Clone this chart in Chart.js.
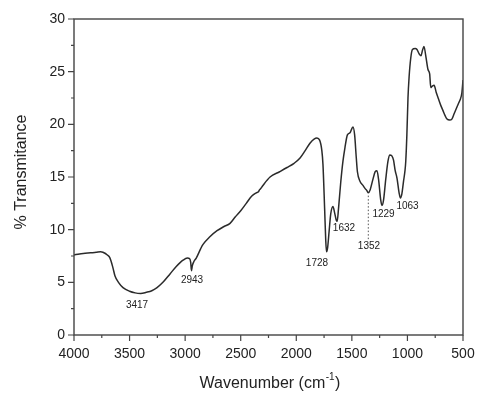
<!DOCTYPE html>
<html>
<head>
<meta charset="utf-8">
<script src="https://cdn.jsdelivr.net/npm/chart.js@4/dist/chart.umd.min.js"></script>
<style>
  html, body { margin: 0; padding: 0; background: #fff; }
  #wrap { width: 477px; height: 394px; }
</style>
</head>
<body>
<div id="wrap"><canvas id="ir" width="477" height="394"></canvas></div>
<script>
/**************************
* Data
**************************/

// wavenumber, cm-1
var wavenumber = [4000, 3950, 3900, 3850, 3800, 3760, 3740, 3700, 3676, 3650, 3631, 3600, 3559, 3500, 3450,
	3400, 3350, 3300, 3253, 3200, 3136, 3080, 3019, 2980, 2960, 2950, 2943, 2935, 2920, 2900, 2860, 2839,
	2780, 2713, 2650, 2596, 2550, 2500, 2450, 2400, 2360, 2340, 2330, 2320, 2300, 2236, 2150, 2083, 2020,
	1966, 1920, 1877, 1840, 1814, 1790, 1770, 1760, 1745, 1735, 1728, 1718, 1705, 1690, 1670, 1655, 1640,
	1632, 1620, 1600, 1580, 1562, 1540, 1517, 1500, 1490, 1475, 1460, 1450, 1427, 1400, 1380, 1364, 1352,
	1335, 1310, 1290, 1274, 1260, 1240, 1229, 1215, 1195, 1175, 1160, 1140, 1125, 1110, 1094, 1075, 1063,
	1050, 1035, 1022, 1015, 1005, 995, 985, 970, 955, 930, 914, 895, 878, 865, 851, 835, 815, 800, 790,
	779, 760, 740, 720, 700, 680, 660, 644, 620, 600, 580, 560, 540, 527, 510, 500]

// % transmittance
var transmittance = [7.6, 7.7, 7.75, 7.8, 7.85, 7.9, 7.85, 7.6, 7.3, 6.4, 5.6, 5.0, 4.5, 4.15, 4.0,
	3.95, 4.05, 4.2, 4.5, 5.0, 5.8, 6.5, 7.1, 7.3, 7.25, 6.9, 6.1, 6.6, 7.0, 7.3, 8.2, 8.6,
	9.3, 9.9, 10.3, 10.6, 11.2, 11.8, 12.5, 13.2, 13.5, 13.6, 13.8, 13.9, 14.2, 15.0, 15.5, 15.9, 16.3,
	16.8, 17.5, 18.2, 18.6, 18.7, 18.5, 17.5, 16.2, 12.0, 9.0, 7.9, 8.3, 9.8, 11.5, 12.2, 11.6, 10.9,
	10.8, 12.0, 14.5, 16.5, 17.8, 19.0, 19.2, 19.6, 19.75, 19.0, 16.8, 15.5, 14.6, 14.2, 13.9, 13.7, 13.5,
	13.8, 14.8, 15.5, 15.6, 14.8, 12.8, 12.3, 12.8, 14.8, 16.5, 17.1, 17.0, 16.6, 15.6, 14.9, 13.5, 13.0,
	13.4, 14.6, 15.6, 16.5, 19.0, 22.5, 24.5, 26.3, 27.1, 27.2, 27.1, 26.7, 26.5, 27.0, 27.4, 26.5, 25.2, 24.8, 23.5,
	23.6, 23.7, 23.0, 22.4, 21.8, 21.3, 20.8, 20.5, 20.4, 20.5, 21.0, 21.5, 22.0, 22.3, 23.0, 24.2]

// labelled bands
var peakNames = ['3417', '2943', '1728', '1632', '1352', '1229', '1063']

var xTicks = [4000, 3500, 3000, 2500, 2000, 1500, 1000, 500]
var yTicks = [0, 5, 10, 15, 20, 25, 30]

/*
* Label placement (data units) and drawing helpers
*/
var peakLabelAt = [[3433, 2.85], [2938, 5.2], [1814, 6.8], [1571, 10.1], [1346, 8.4], [1215, 11.5], [999, 12.25]]
var FONT = '"Liberation Sans", Arial, sans-serif'
var INK = '#2b2b2b'

var points = wavenumber.map(function (w, i) { return {x: w, y: transmittance[i]} })

var frame = {
	id: 'frame',
	afterDraw: function (chart) {
		var ctx = chart.ctx, a = chart.chartArea
		var xs = chart.scales.x, ys = chart.scales.y
		ctx.save()
		ctx.strokeStyle = '#444'
		ctx.lineWidth = 1.4
		ctx.strokeRect(a.left, a.top, a.right - a.left, a.bottom - a.top)

		// major / minor ticks, pointing out
		ctx.lineWidth = 1.2
		ctx.beginPath()
		for (var w = 500; w <= 4000; w += 250) {
			var px = xs.getPixelForValue(w)
			ctx.moveTo(px, a.bottom)
			ctx.lineTo(px, a.bottom + (w % 500 === 0 ? 6 : 3))
		}
		for (var v = 0; v <= 30; v += 2.5) {
			var py = ys.getPixelForValue(v)
			ctx.moveTo(a.left, py)
			ctx.lineTo(a.left - (v % 5 === 0 ? 6 : 3), py)
		}
		ctx.stroke()

		// band labels
		ctx.fillStyle = '#222'
		ctx.font = '10px ' + FONT
		ctx.textAlign = 'center'
		ctx.textBaseline = 'middle'
		peakNames.forEach(function (name, i) {
			ctx.fillText(name, xs.getPixelForValue(peakLabelAt[i][0]), ys.getPixelForValue(peakLabelAt[i][1]))
		})

		// dotted leader for 1352
		ctx.setLineDash([1.5, 2])
		ctx.lineWidth = 1
		ctx.strokeStyle = '#555'
		ctx.beginPath()
		ctx.moveTo(xs.getPixelForValue(1352), ys.getPixelForValue(9.1))
		ctx.lineTo(xs.getPixelForValue(1352), ys.getPixelForValue(13.3))
		ctx.stroke()
		ctx.setLineDash([])

		// axis titles
		ctx.fillStyle = '#222'
		ctx.font = '16px ' + FONT
		ctx.save()
		ctx.translate(22, (a.top + a.bottom) / 2 - 5)
		ctx.rotate(-Math.PI / 2)
		ctx.fillText('% Transmitance', 0, 0)
		ctx.restore()

		var main = 'Wavenumber (cm', sup = '-1', tail = ')'
		var wMain = ctx.measureText(main).width
		var wTail = ctx.measureText(tail).width
		ctx.font = '10px ' + FONT
		var wSup = ctx.measureText(sup).width
		var x0 = (a.left + a.right) / 2 - (wMain + wSup + wTail) / 2 + 1
		var yb = 384
		ctx.textAlign = 'left'
		ctx.font = '16px ' + FONT
		ctx.fillText(main, x0, yb)
		ctx.font = '10px ' + FONT
		ctx.fillText(sup, x0 + wMain + 0.5, yb - 7)
		ctx.font = '16px ' + FONT
		ctx.fillText(tail, x0 + wMain + wSup + 1, yb)
		ctx.restore()
	}
}

var chart = new Chart(document.getElementById('ir'), {
	type: 'line',
	data: {
		datasets: [{
			data: points,
			borderColor: INK,
			borderWidth: 1.5,
			pointRadius: 0,
			cubicInterpolationMode: 'monotone',
			fill: false
		}]
	},
	options: {
		responsive: false,
		animation: false,
		layout: {padding: {left: 0, top: 19, right: 14, bottom: 0}},
		plugins: {legend: {display: false}, tooltip: {enabled: false}},
		scales: {
			x: {
				type: 'linear',
				reverse: true,
				min: 500,
				max: 4000,
				afterBuildTicks: function (s) { s.ticks = xTicks.map(function (v) { return {value: v} }) },
				afterFit: function (s) { s.height = 59; s.paddingLeft = 0; s.paddingRight = 0 },
				grid: {display: false, drawTicks: false},
				border: {display: false},
				ticks: {color: '#222', font: {family: FONT, size: 14}, padding: 11, maxRotation: 0,
					callback: function (v) { return String(v) }}
			},
			y: {
				min: 0,
				max: 30,
				afterBuildTicks: function (s) { s.ticks = yTicks.map(function (v) { return {value: v} }) },
				afterFit: function (s) { s.width = 74; s.paddingTop = 0; s.paddingBottom = 0 },
				grid: {display: false, drawTicks: false},
				border: {display: false},
				ticks: {color: '#222', font: {family: FONT, size: 14}, padding: 9,
					callback: function (v) { return String(v) }}
			}
		}
	},
	plugins: [frame]
})
</script>
</body>
</html>
